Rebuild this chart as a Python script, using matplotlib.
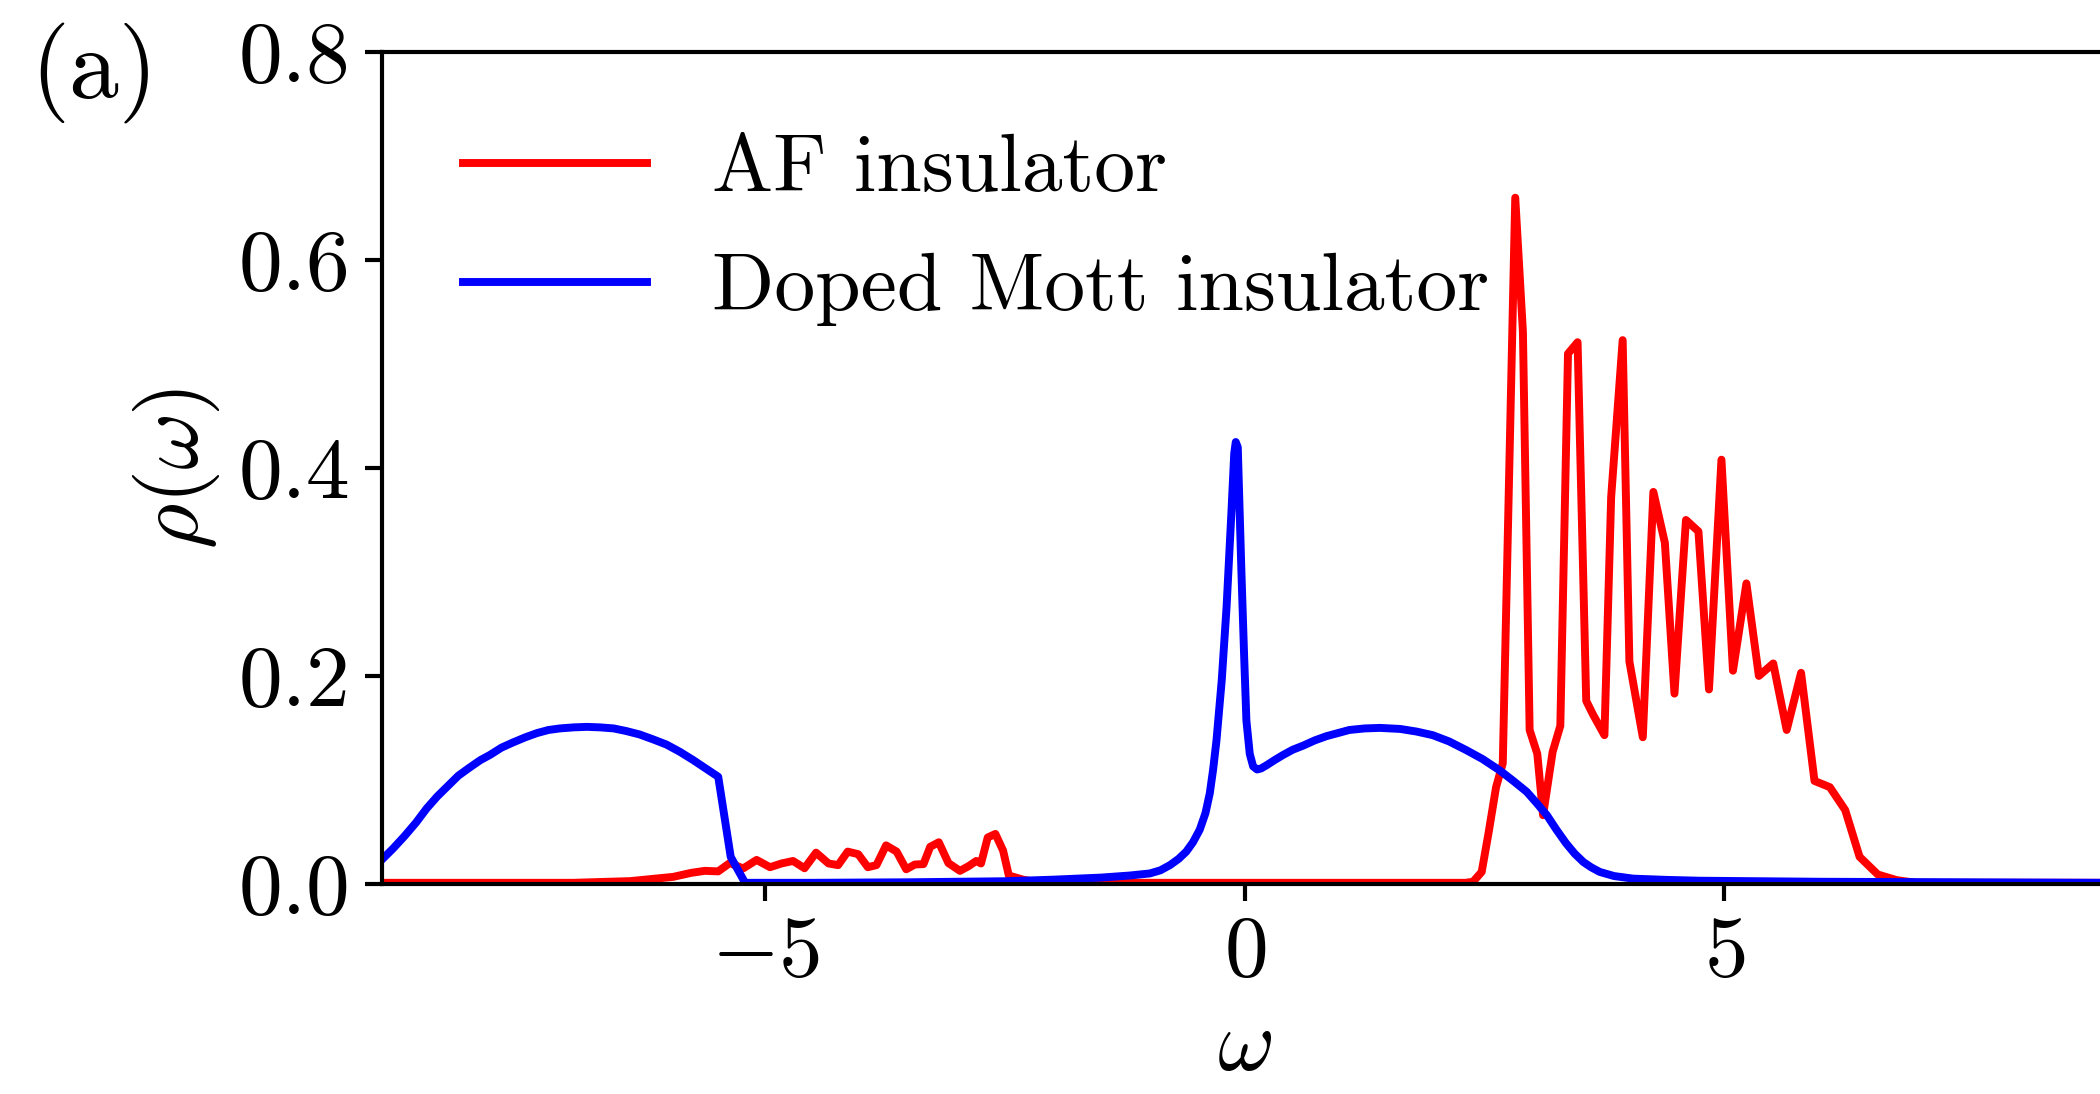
import matplotlib

matplotlib.use('Agg')
import matplotlib.pyplot as plt

plt.rcParams['font.family'] = 'serif'
plt.rcParams['font.serif'] = ['cmr10']
plt.rcParams['mathtext.fontset'] = 'cm'
plt.rcParams['axes.formatter.use_mathtext'] = True
plt.rcParams['font.size'] = 21

# AF insulator spectral function
red_w = [-9.0, -8.0, -7.0, -6.41, -5.96, -5.77, -5.63, -5.49, -5.37, -5.23, -5.09,
         -4.95, -4.83, -4.71, -4.59, -4.47, -4.34, -4.24, -4.14, -4.03, -3.93, -3.84,
         -3.74, -3.63, -3.53, -3.44, -3.35, -3.28, -3.19, -3.09, -2.97, -2.88, -2.80,
         -2.75, -2.68, -2.60, -2.52, -2.46, -2.31, -2.17, -2.0, -1.0, 0.0, 1.0, 2.0,
         2.30, 2.38, 2.47, 2.54, 2.62, 2.69, 2.82, 2.90, 2.97, 3.05, 3.11, 3.21, 3.29,
         3.37, 3.47, 3.56, 3.63, 3.75, 3.82, 3.94, 4.01, 4.15, 4.26, 4.38, 4.48, 4.60,
         4.73, 4.84, 4.97, 5.09, 5.23, 5.36, 5.51, 5.65, 5.80, 5.94, 6.10, 6.26, 6.41,
         6.60, 6.80, 7.0, 8.0, 9.0]
red_rho = [0.001, 0.001, 0.001, 0.0026, 0.0067, 0.0106, 0.0125, 0.012, 0.020, 0.0148, 0.023,
           0.016, 0.0196, 0.022, 0.015, 0.030, 0.0196, 0.018, 0.031, 0.0285, 0.016, 0.018,
           0.037, 0.031, 0.014, 0.0186, 0.019, 0.0356, 0.040, 0.020, 0.0125, 0.017, 0.022,
           0.0196, 0.0446, 0.048, 0.032, 0.008, 0.004, 0.0015, 0.001, 0.001, 0.001, 0.001, 0.001,
           0.001, 0.002, 0.0115, 0.048, 0.093, 0.116, 0.66, 0.531, 0.148, 0.125, 0.066, 0.127, 0.152,
           0.51, 0.521, 0.176, 0.163, 0.143, 0.372, 0.523, 0.214, 0.141, 0.377, 0.328, 0.183, 0.350,
           0.339, 0.187, 0.408, 0.205, 0.289, 0.200, 0.212, 0.148, 0.203, 0.099, 0.093, 0.071, 0.026,
           0.009, 0.0035, 0.001, 0.001, 0.001]

# doped Mott insulator spectral function
blue_w = [-9.0, -8.88, -8.76, -8.64, -8.53, -8.42, -8.31, -8.2, -8.08, -7.97, -7.87, -7.75,
          -7.63, -7.5, -7.38, -7.26, -7.14, -7.0, -6.86, -6.72, -6.58, -6.45, -6.31, -6.17,
          -6.03, -5.89, -5.75, -5.62, -5.49, -5.36, -5.21, -4.5, -3.5, -2.5, -2.0, -1.5,
          -1.2, -0.99, -0.88, -0.78, -0.69, -0.61, -0.54, -0.47, -0.41, -0.365, -0.33, -0.295,
          -0.24, -0.19, -0.14, -0.11, -0.094, -0.073, -0.035, -0.007, 0.017, 0.052, 0.087,
          0.128, 0.17, 0.226, 0.31, 0.40, 0.5, 0.61, 0.73, 0.85, 0.97, 1.09, 1.25, 1.41,
          1.62, 1.79, 1.96, 2.13, 2.31, 2.48, 2.66, 2.8, 2.94, 3.05, 3.15, 3.25, 3.35, 3.44,
          3.53, 3.61, 3.70, 3.85, 4.05, 4.4, 4.74, 6.0, 7.5, 9.0]
blue_rho = [0.023, 0.034, 0.046, 0.059, 0.0725, 0.084, 0.094, 0.104, 0.112, 0.119, 0.124, 0.131,
            0.136, 0.141, 0.145, 0.148, 0.1495, 0.1505, 0.151, 0.1505, 0.1495, 0.147, 0.1437, 0.139,
            0.134, 0.127, 0.119, 0.111, 0.103, 0.026, 0.001, 0.001, 0.0015, 0.0025, 0.004, 0.006,
            0.008, 0.010, 0.013, 0.018, 0.024, 0.031, 0.040, 0.052, 0.068, 0.087, 0.11, 0.138,
            0.196, 0.266, 0.356, 0.414, 0.425, 0.42, 0.30, 0.22, 0.157, 0.125, 0.113,
            0.110, 0.111, 0.114, 0.119, 0.124, 0.129, 0.133, 0.138, 0.142, 0.145, 0.148, 0.1495, 0.150,
            0.149, 0.1465, 0.143, 0.137, 0.1286, 0.12, 0.109, 0.099, 0.0885, 0.077, 0.066, 0.052, 0.039, 0.029,
            0.021, 0.016, 0.0115, 0.0075, 0.005, 0.0038, 0.003, 0.002, 0.0015, 0.001]

fig = plt.figure(figsize=(7, 3.6467), dpi=300)
ax = fig.add_axes([0.1817, 0.1921, 0.8221, 0.7602])
ax.plot(red_w, red_rho, color='red', lw=1.9, label='AF insulator')
ax.plot(blue_w, blue_rho, color='blue', lw=1.9, label='Doped Mott insulator')
ax.set_xlim(-9, 9)
ax.set_ylim(0, 0.8)
ax.set_xticks([-5, 0, 5])
ax.set_yticks([0.0, 0.2, 0.4, 0.6, 0.8])
ax.set_yticklabels(['0.0', '0.2', '0.4', '0.6', '0.8'])
ax.tick_params(width=1, length=4)
for s in ax.spines.values():
    s.set_linewidth(1)
ax.set_xlabel(r'$\omega$')
ax.set_ylabel(r'$\rho(\omega)$')
ax.legend(loc='upper left', frameon=False, fontsize=19.6, handlelength=2.25,
          labelspacing=0.56, borderaxespad=0.6)
fig.text(0.045, 0.934, '(a)', ha='center', va='center', fontsize=24)
fig.savefig('out.png', dpi=300)
